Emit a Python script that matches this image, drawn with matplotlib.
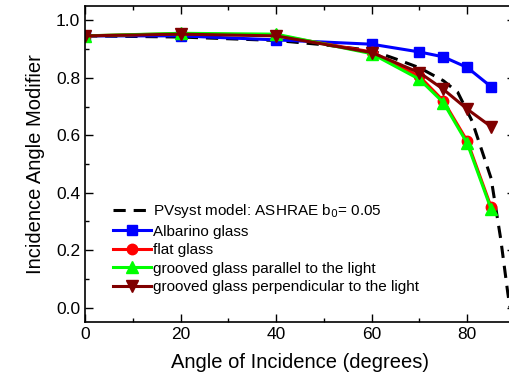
import numpy as np
import matplotlib
matplotlib.use('Agg')
import matplotlib.pyplot as plt
from matplotlib.ticker import MultipleLocator

plt.rcParams['font.family'] = ['Liberation Sans', 'DejaVu Sans']

# measured angles (degrees)
angles = [0, 20, 40, 60, 70, 75, 80, 85]
albarino = [0.946, 0.946, 0.932, 0.917, 0.890, 0.873, 0.836, 0.769]
flat = [0.946, 0.954, 0.948, 0.890, 0.805, 0.720, 0.580, 0.350]
grooved_par = [0.946, 0.955, 0.952, 0.884, 0.795, 0.714, 0.572, 0.343]
grooved_perp = [0.946, 0.952, 0.946, 0.888, 0.818, 0.760, 0.691, 0.630]

# PVsyst ASHRAE curve
model_angles = [0, 20, 40, 50, 60, 65, 70, 75, 78, 81, 83, 85, 87, 88.5, 89.5]
model_iam = [0.946, 0.942, 0.930, 0.915, 0.895, 0.866, 0.835, 0.790, 0.750,
             0.650, 0.550, 0.450, 0.240, 0.050, -0.060]

fig = plt.figure(figsize=(5.1, 3.81), dpi=100)
ax = fig.add_axes([85 / 510, 59 / 381, 430 / 510, 316 / 381])

ax.plot(model_angles, model_iam, color='black', linestyle=(0, (4, 2.6)), linewidth=2.2,
        label='PVsyst model: ASHRAE b$_0$= 0.05')
ax.plot(angles, albarino, color='#0000FF', marker='s', markersize=7, linewidth=2.2,
        label='Albarino glass')
ax.plot(angles, flat, color='#FF0000', marker='o', markersize=7.5, linewidth=2.2,
        label='flat glass')
ax.plot(angles, grooved_par, color='#00FF00', marker='^', markersize=8.5, linewidth=2.2,
        label='grooved glass parallel to the light')
ax.plot(angles, grooved_perp, color='#800000', marker='v', markersize=8.5, linewidth=2.2,
        label='grooved glass perpendicular to the light')

ax.set_xlim(0, 90)
ax.set_ylim(-0.05, 1.05)
ax.xaxis.set_minor_locator(MultipleLocator(10))
ax.yaxis.set_minor_locator(MultipleLocator(0.1))
ax.set_xticks([0, 20, 40, 60, 80])
ax.set_yticks([0.0, 0.2, 0.4, 0.6, 0.8, 1.0])
ax.set_yticklabels(['0.0', '0.2', '0.4', '0.6', '0.8', '1.0'])
ax.tick_params(which='both', direction='in', top=True, right=True, labelsize=12.5, width=1)
ax.tick_params(which='major', length=6)
ax.tick_params(which='minor', length=3)
for s in ax.spines.values():
    s.set_linewidth(1.2)

ax.set_xlabel('Angle of Incidence (degrees)', fontsize=14.5, labelpad=8)
ax.set_ylabel('Incidence Angle Modifier', fontsize=14.5, labelpad=8)

ax.legend(loc='lower left', bbox_to_anchor=(0.05, 0.068), frameon=False, fontsize=11,
          handlelength=2.5, handletextpad=0.15, labelspacing=0.3, borderaxespad=0)

fig.savefig('out.png', dpi=100)
